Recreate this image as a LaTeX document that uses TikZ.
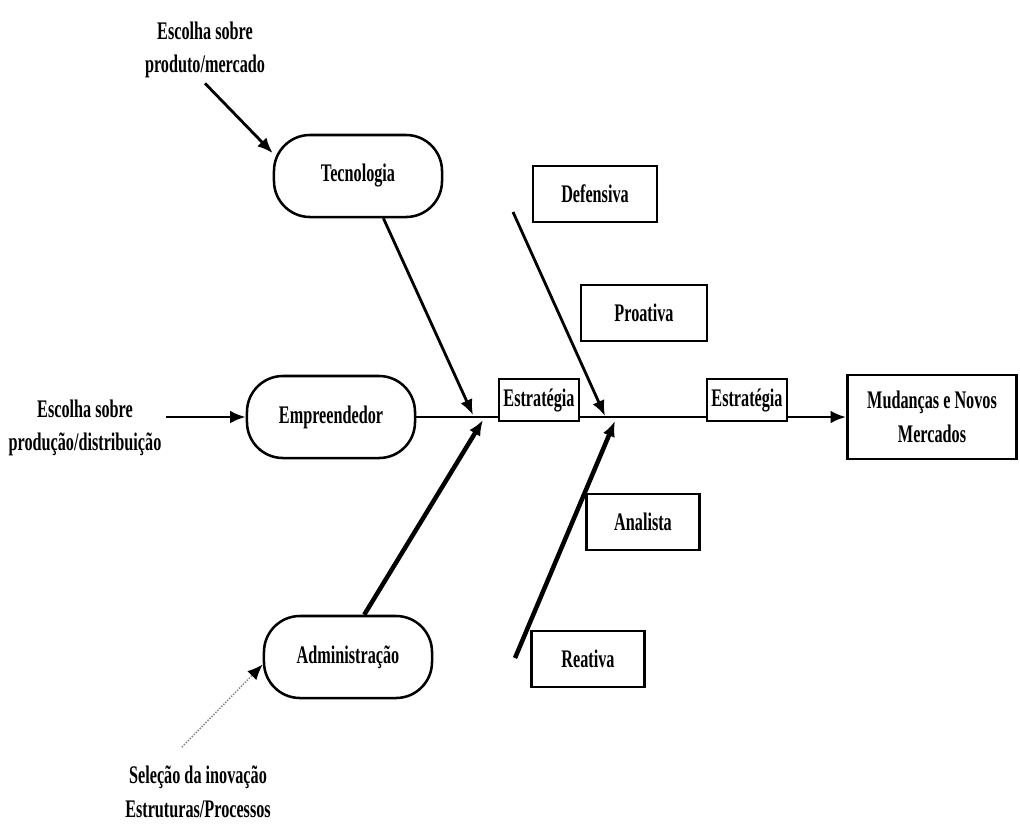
\documentclass[tikz,border=0pt]{standalone}
\usepackage{fontspec}
\setmainfont{Liberation Serif}[FakeStretch=0.64]
\usetikzlibrary{arrows.meta}
\tikzset{
  txt/.style = {font=\bfseries\fontsize{18}{24}\selectfont, align=center},
  fase/.style = {txt, draw, line width=1.8pt, rounded corners=0.9cm, minimum width=4.2cm, minimum height=2.05cm},
  tipo/.style = {txt, draw, line width=1.6pt, minimum height=1.4cm},
  estr/.style = {txt, draw, line width=1.6pt, inner sep=1pt, minimum width=2cm, minimum height=1.05cm},
  seta/.style = {-{Latex[length=11pt, width=9pt]}, line width=2pt}
}
\begin{document}
\begin{tikzpicture}[x = 0.025cm, y = -0.025cm]
\useasboundingbox (0,0) rectangle (1020,825);
\node[txt] at (205,50) (prod) {Escolha sobre\\produto/mercado};
\node[txt] at (85,428) (dist) {Escolha sobre\\produção/distribuição};
\node[txt] at (198,792) (sel) {Seleção da inovação\\Estruturas/Processos};
\node[fase] at (358,176) (tec) {Tecnologia};
\node[fase] at (331,417) (emp) {Empreendedor};
\node[fase] at (348,657) (adm) {Administração};
\node[tipo, minimum width=3.1cm] at (595,194) (def) {Defensiva};
\node[tipo, minimum width=3.15cm] at (644,313) (pro) {Proativa};
\node[tipo, minimum width=2.83cm] at (643,522) (ana) {Analista};
\node[tipo, minimum width=2.83cm] at (588,659) (rea) {Reativa};
\node[estr] at (539,400) (est1) {Estratégia};
\node[estr] at (747,400) (est2) {Estratégia};
\node[fase, rounded corners=0pt, minimum width=4.23cm, minimum height=2.1cm] at (932,417) (mud) {Mudanças e Novos\\Mercados};
\coordinate (j1a) at (473,415);
\coordinate (j1b) at (483,420);
\coordinate (j2a) at (605,416);
\coordinate (j2b) at (615,421);
\coordinate (d0) at (513,212);
\coordinate (r0) at (515,658);
\coordinate (s0) at (182,747);
\draw[seta] (prod.south) -- (tec.165);
\draw[seta] (dist.east |- emp.west) -- (emp.west);
\draw[-{Latex[length=11pt, width=9pt, black]}, gray, densely dotted, line width=1pt] (s0) -- (adm.185);
\draw[seta] (tec.-59) -- (j1a);
\draw[seta, line width=3.2pt] (adm.69) -- (j1b);
\draw[seta] (d0) -- (j2a);
\draw[seta, line width=3.2pt] (r0) -- (j2b);
\draw[line width=2pt] (emp.east) -- (emp.east -| est1.west);
\draw[line width=2pt] (est1.east |- emp.east) -- (est2.west |- emp.east);
\draw[seta] (est2.east |- mud.west) -- (mud.west);
\end{tikzpicture}
\end{document}
